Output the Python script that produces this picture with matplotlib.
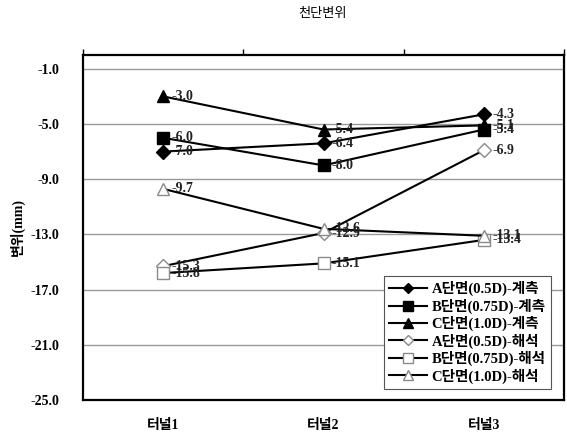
import matplotlib
matplotlib.use("Agg")
import matplotlib.pyplot as plt

categories = ["터널1", "터널2", "터널3"]
series_names = ["A단면(0.5D)-계측", "B단면(0.75D)-계측", "C단면(1.0D)-계측",
                "A단면(0.5D)-해석", "B단면(0.75D)-해석", "C단면(1.0D)-해석"]
a_meas = [-7.0, -6.4, -4.3]
b_meas = [-6.0, -8.0, -5.4]
c_meas = [-3.0, -5.4, -5.1]
a_anal = [-15.3, -12.9, -6.9]
b_anal = [-15.8, -15.1, -13.4]
c_anal = [-9.7, -12.6, -13.1]
yticks = [-25.0, -21.0, -17.0, -13.0, -9.0, -5.0, -1.0]

serif_kr = ["Liberation Serif", "Noto Sans CJK KR"]
plt.rcParams["font.family"] = serif_kr

fig = plt.figure(figsize=(5.67, 4.40), dpi=100)
ax = fig.add_axes([83/567, 40/440, (564-83)/567, (400-55)/440])

x = list(range(len(categories)))
styles = [
    (a_meas, "D", "black", "black", 7),
    (b_meas, "s", "black", "black", 9),
    (c_meas, "^", "black", "black", 8.5),
    (a_anal, "D", "white", "#8a8a8a", 7),
    (b_anal, "s", "white", "#8a8a8a", 9),
    (c_anal, "^", "white", "#8a8a8a", 8.5),
]
for name, (vals, m, fc, ec, ms) in zip(series_names, styles):
    ax.plot(x, vals, color="black", lw=1.5, marker=m, markersize=ms,
            markerfacecolor=fc, markeredgecolor=ec, markeredgewidth=1.0,
            label=name, zorder=3)
    for xi, v in zip(x, vals):
        ax.annotate(f"{v:.1f}", (xi, v), xytext=(6, 0), textcoords="offset points",
                    va="center", ha="left", fontsize=10, fontweight="bold",
                    family=serif_kr, color="#222222", zorder=4)

ax.set_xlim(-0.5, 2.5)
ax.set_ylim(-25, 0)
ax.set_yticks(yticks)
ax.set_yticklabels([f"{t:.1f}" for t in yticks], fontsize=10, fontweight="bold")
ax.yaxis.grid(True, color="#999999", lw=1.0)
ax.set_axisbelow(True)
ax.tick_params(axis="y", length=0, pad=17)

ax.set_xticks(x)
ax.set_xticklabels(categories, fontsize=10, fontweight="bold")
ax.tick_params(axis="x", length=0, pad=14)

sec = ax.secondary_xaxis("top")
sec.set_xticks([-0.5, 0.5, 1.5, 2.5])
sec.set_xticklabels([])
sec.tick_params(length=4, width=1, direction="out")
sec.spines["top"].set_visible(False)

for s in ax.spines.values():
    s.set_linewidth(1.6)
    s.set_color("black")

ax.set_ylabel("변위(mm)", fontsize=10, fontweight="bold", labelpad=4)
fig.text(323/567, 1 - 13/440, "천단변위", ha="center", va="center", fontsize=9.5,
         family=["Noto Sans CJK KR"])

leg = ax.legend(loc="lower right", bbox_to_anchor=(1.0 - 6/481, 4/345),
                prop={"family": serif_kr, "weight": "bold", "size": 10.5},
                frameon=True, fancybox=False, edgecolor="#555555", framealpha=1,
                handlelength=2.6, handletextpad=0.3, borderpad=0.35, labelspacing=0.15,
                markerscale=0.8)
leg.get_frame().set_linewidth(0.8)

fig.savefig("out.png", dpi=100)
